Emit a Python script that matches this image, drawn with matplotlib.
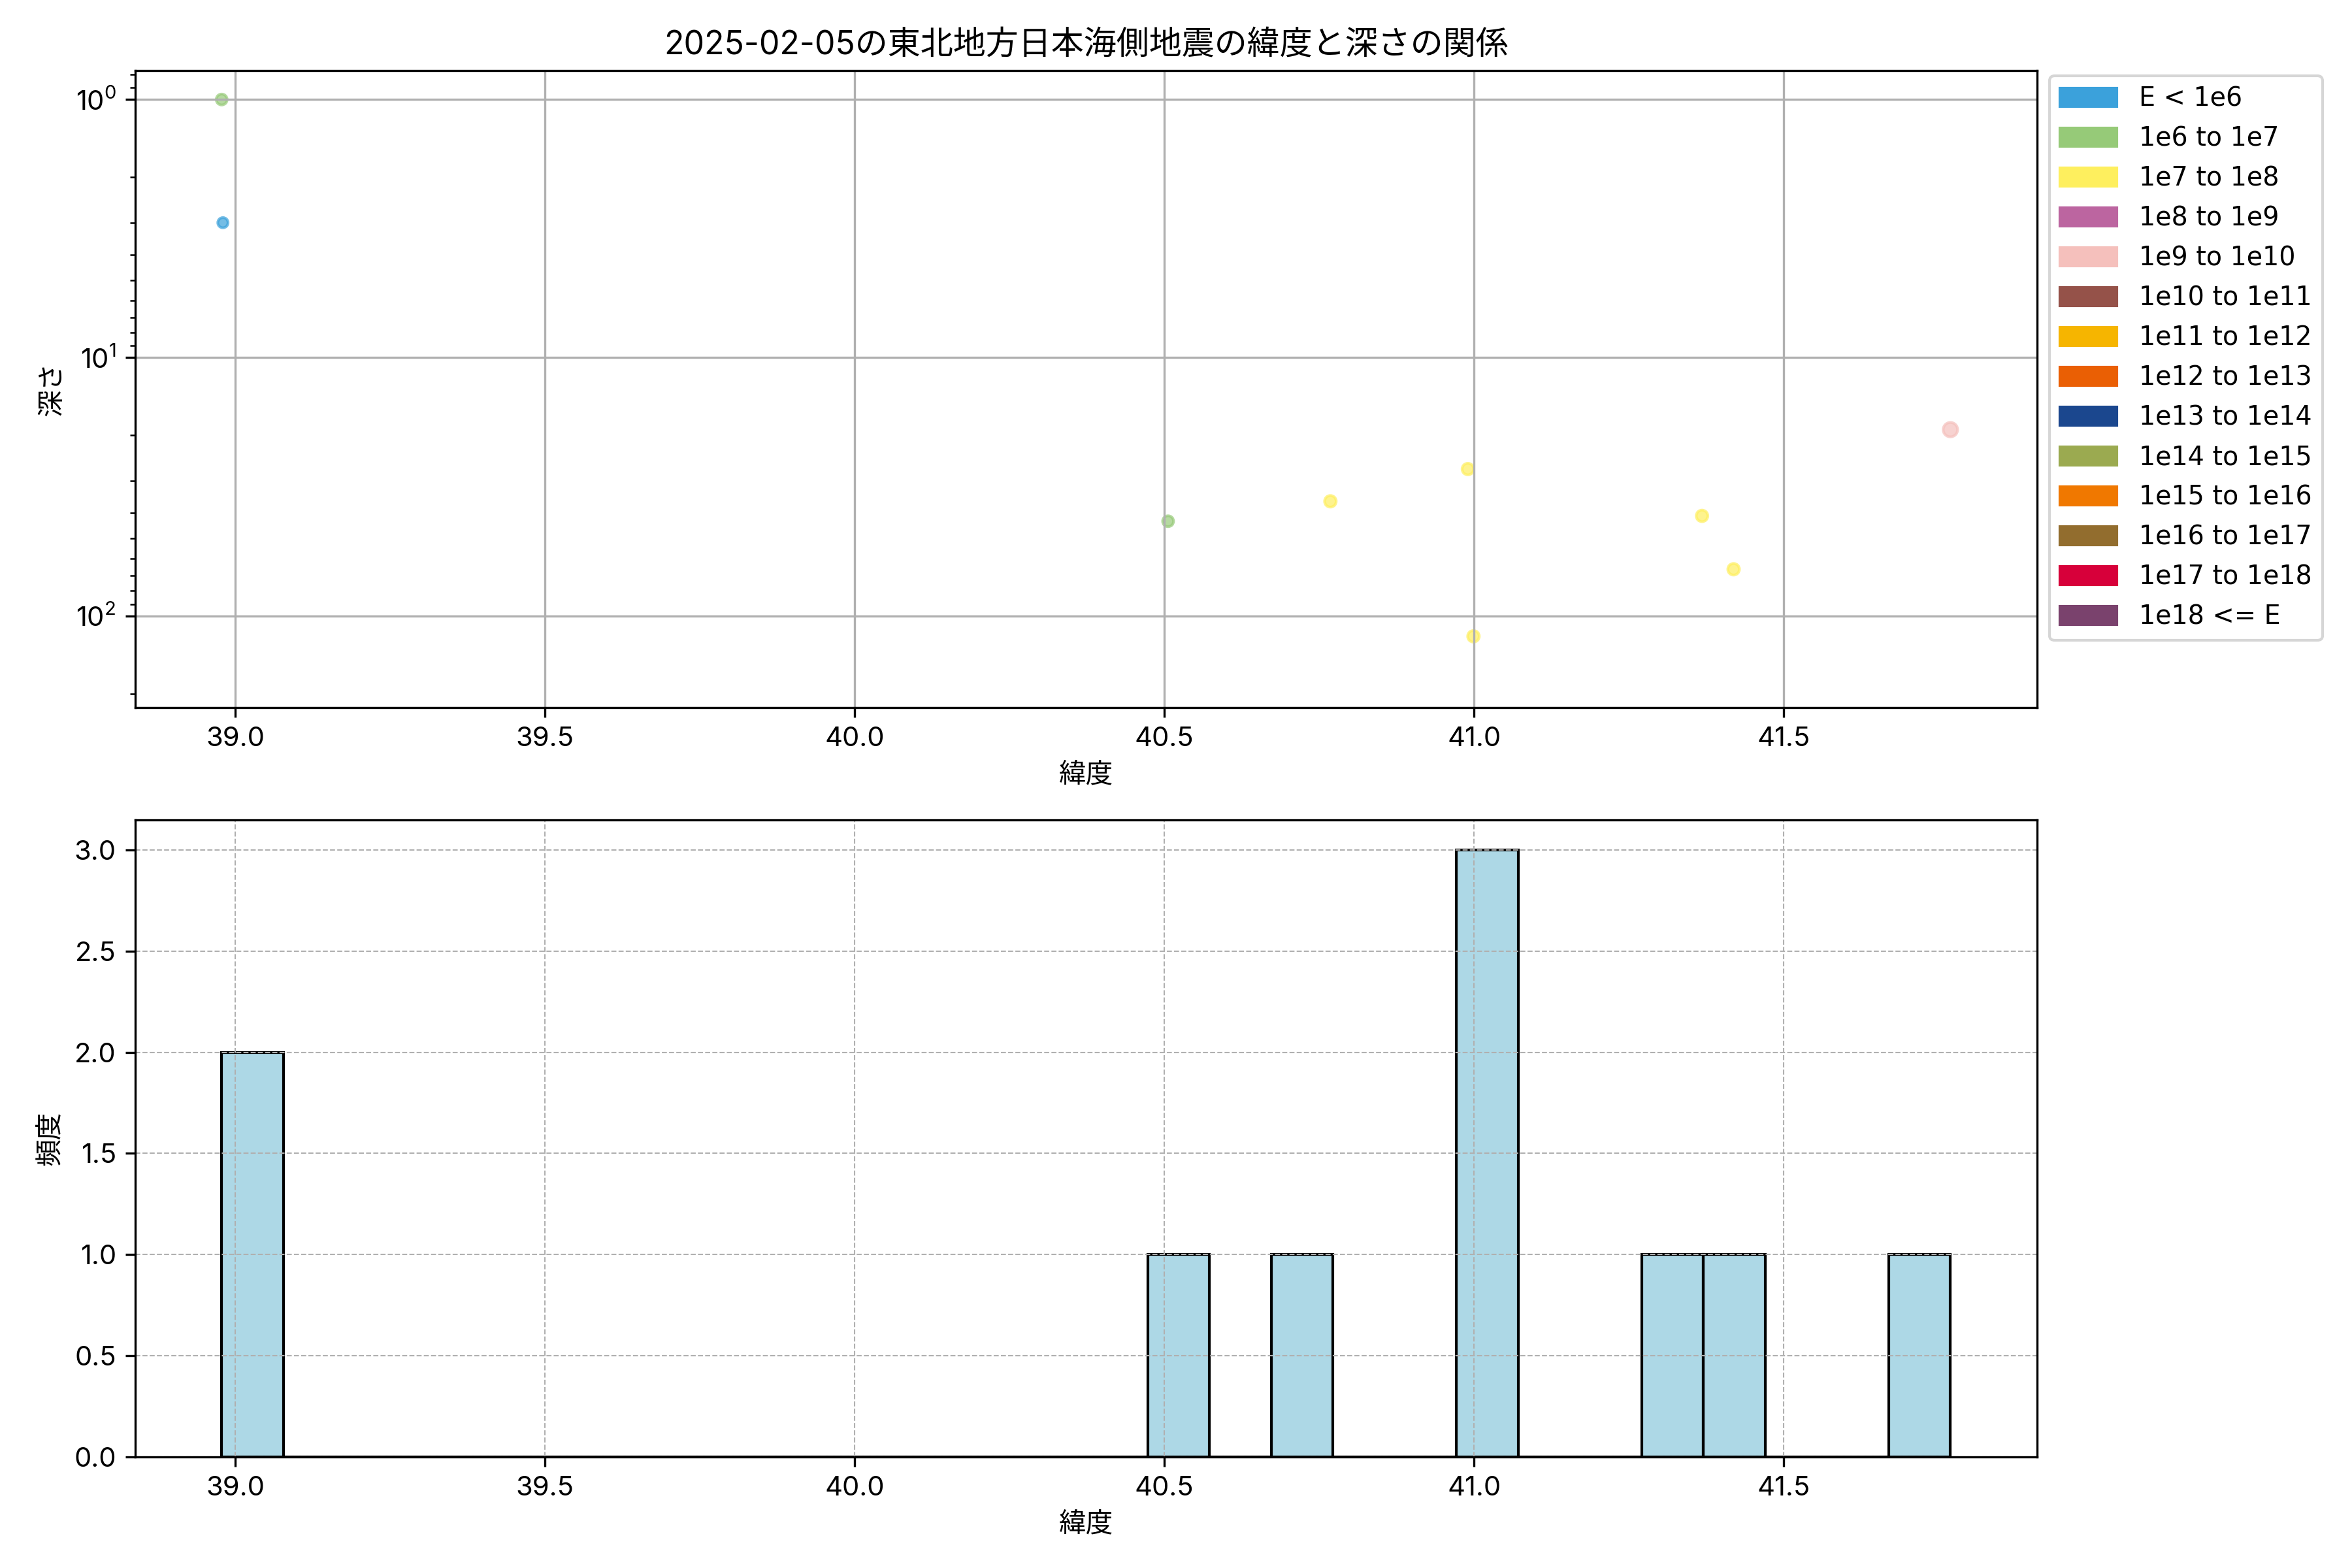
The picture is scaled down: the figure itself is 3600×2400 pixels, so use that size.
import numpy as np
import matplotlib
matplotlib.use("Agg")
import matplotlib.pyplot as plt
from matplotlib.colors import to_rgba
from matplotlib.patches import Patch

plt.rcParams['font.family'] = ['Inter', 'Noto Sans CJK JP']

# energy classes shown in the legend
energy_labels = ["E < 1e6", "1e6 to 1e7", "1e7 to 1e8", "1e8 to 1e9", "1e9 to 1e10",
                 "1e10 to 1e11", "1e11 to 1e12", "1e12 to 1e13", "1e13 to 1e14",
                 "1e14 to 1e15", "1e15 to 1e16", "1e16 to 1e17", "1e17 to 1e18",
                 "1e18 <= E"]
energy_colors = ["#3BA1DB", "#96CA78", "#FEEF5E", "#BC65A0", "#F5C0BC", "#955249",
                 "#F6B500", "#EA5F04", "#1B478E", "#9BAA50", "#F07800", "#926D2E",
                 "#D7003A", "#7A426D"]

# events; the last one has no energy class (not coloured,
# but it still counts in the histogram and in the depth range)
latitude = [38.978, 38.980, 40.506, 40.768, 40.990, 40.999, 41.368, 41.419, 41.769, 41.005]
depth = [1.0, 3.0, 43.0, 36.0, 27.0, 120.0, 41.0, 66.0, 19.0, 175.0]
energy_class = [1, 0, 1, 2, 2, 2, 2, 2, 4, -1]
marker_size = [16, 14, 16, 18, 18, 18, 18, 18, 28, 18]

# unclassified events get a fully transparent colour
point_colors = [to_rgba(energy_colors[c], 0.7) if c >= 0 else (0, 0, 0, 0)
                for c in energy_class]

fig, (ax1, ax2) = plt.subplots(2, 1, figsize=(12, 8))
fig.subplots_adjust(left=0.0575, right=0.866, top=0.955, bottom=0.071, hspace=0.176)

ax1.scatter(latitude, depth, c=point_colors, s=marker_size)
ax1.set_yscale("log")
ax1.invert_yaxis()
ax1.set_xlabel("緯度")
ax1.set_ylabel("深さ")
ax1.set_title("2025-02-05の東北地方日本海側地震の緯度と深さの関係")
ax1.grid(True)
handles = [Patch(color=col, label=lab) for col, lab in zip(energy_colors, energy_labels)]
ax1.legend(handles=handles, loc="upper left", bbox_to_anchor=(1.0, 1.012),
           prop={"family": ["DejaVu Sans"], "size": 9.5}, labelspacing=0.53,
           handlelength=2.2, handletextpad=0.85)

ax2.hist(latitude, bins=28, color="lightblue", edgecolor="black")
ax2.set_xlabel("緯度")
ax2.set_ylabel("頻度")
ax2.grid(True, linestyle="--", linewidth=0.5)

fig.savefig("out.png", dpi=300)
